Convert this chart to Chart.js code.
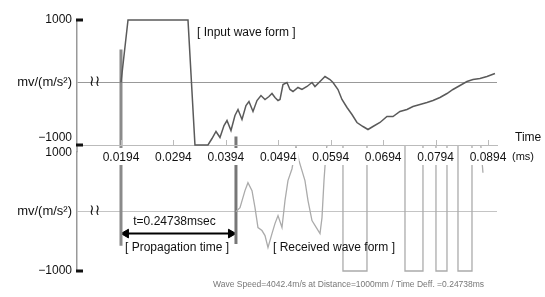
<!DOCTYPE html>
<html>
<head>
<meta charset="utf-8">
<script src="https://cdn.jsdelivr.net/npm/chart.js@4"></script>
<style>
  html, body { margin: 0; padding: 0; background: #fff; }
  #wrap { position: relative; width: 545px; height: 297px; overflow: hidden; }
  #wrap canvas { position: absolute; left: 0; }
  #bottom-chart { top: 140px; z-index: 1; }
  #top-chart { top: 0; z-index: 2; }
</style>
</head>
<body>
<div id="wrap">
  <canvas id="top-chart" width="545" height="170"></canvas>
  <canvas id="bottom-chart" width="545" height="157"></canvas>
</div>
<script>
/* ============================================================
   Input / received wave form — propagation time
   ============================================================ */

const TIME_MIN = 0.01101;
const TIME_MAX = 0.09112;
const TIME_TICKS = [0.0194, 0.0294, 0.0394, 0.0494, 0.0594, 0.0694, 0.0794, 0.0894];
const Y_TICKS = [-1000, 0, 1000];

// Input wave (upper panel)
const INPUT_T = [0.0194, 0.02074, 0.03218, 0.03351, 0.03599, 0.03676, 0.03752, 0.03828, 0.03905, 0.03962,
  0.04038, 0.04114, 0.04172, 0.04248, 0.04324, 0.04381, 0.04458, 0.04534, 0.04610, 0.04687,
  0.04763, 0.04820, 0.04877, 0.04935, 0.04973, 0.05030, 0.05106, 0.05163, 0.05221, 0.05316,
  0.05392, 0.05488, 0.05583, 0.05640, 0.05774, 0.05831, 0.05926, 0.05984, 0.06079, 0.06155,
  0.06251, 0.06346, 0.06441, 0.06556, 0.06651, 0.06746, 0.06880, 0.07013, 0.07128, 0.07261,
  0.07395, 0.07509, 0.07643, 0.07776, 0.07891, 0.08024, 0.08158, 0.08272, 0.08406, 0.08539,
  0.08654, 0.08787, 0.08921, 0.09073];
const INPUT_V = [0, 1000, 1000, -1000, -1000, -896, -784, -880, -688, -608,
  -768, -528, -432, -592, -368, -304, -464, -288, -208, -272,
  -224, -176, -240, -288, -272, -32, 0, -112, -144, -80,
  -112, -64, 0, -64, 48, 96, 48, 0, -112, -272,
  -400, -512, -640, -704, -752, -704, -640, -544, -544, -464,
  -432, -384, -352, -320, -288, -240, -176, -112, -48, 16,
  48, 64, 96, 144];

// Received wave (lower panel) — values above 1000 run off the panel
const RECV_T = [0.04133, 0.04210, 0.04305, 0.04362, 0.04439, 0.04496, 0.04553, 0.04629, 0.04687, 0.04744,
  0.04820, 0.04877, 0.04935, 0.05011, 0.05068, 0.05125, 0.05202, 0.05278, 0.05335, 0.05392,
  0.05449, 0.05507, 0.05583, 0.05678, 0.05736, 0.05774, 0.05812, 0.05850, 0.05900, 0.06174,
  0.06174, 0.06632, 0.06632, 0.07357, 0.07357, 0.07700, 0.07700, 0.07948, 0.07948, 0.08158,
  0.08158, 0.08368, 0.08368, 0.08635, 0.08635, 0.08787, 0.08844];
const RECV_V = [0, 67, 353, 487, 353, 67, -269, -319, -403, -605,
  -370, -202, -67, -269, 185, 521, 722, 1100, 857, 689,
  521, 185, -151, -286, -370, -101, 521, 1000, 1300, 1300,
  -1000, -1000, 1300, 1300, -1000, -1000, 1300, 1300, -1000, -1000,
  1300, 1300, -1000, -1000, 1300, 1300, 655];

// Start / arrival markers
const MARKER_T = [0.0194, 0.04133];
const MARKER_TOP_FROM = [530, -864];
const MARKER_BOTTOM_TO = [-575, -545];
const ARROW_V = -370;

const FONT = 'Liberation Sans, Arial, sans-serif';
const ARROW_INSET = 0.00095;

const toPoints = (ts, vs) => ts.map((t, i) => ({ x: t, y: vs[i] }));

function yLabel(v, topPanel) {
  if (v === 0) return 'mv/(m/s²)';
  if (v < 0) return topPanel ? ['−1000', ''] : '−1000';
  return '1000';
}

function yScale(topPanel, zeroColor) {
  return {
    min: -1000,
    max: 1000,
    afterFit: s => { s.width = 77; },
    afterBuildTicks: s => { s.ticks = Y_TICKS.map(v => ({ value: v })); },
    ticks: {
      padding: 5,
      color: '#111',
      font: c => ({ family: FONT, size: (c.tick && c.tick.value === 0) ? 13 : 12 }),
      callback: v => yLabel(v, topPanel)
    },
    grid: {
      drawTicks: false,
      lineWidth: 1,
      color: c => (c.tick && c.tick.value === 0) ? zeroColor : 'rgba(0,0,0,0)'
    },
    border: { color: '#999', width: 1.5 }
  };
}

function markerLine(t, from, to, color) {
  return {
    data: [{ x: t, y: from }, { x: t, y: to }],
    borderColor: color,
    borderWidth: 3,
    pointRadius: 0
  };
}

function drawBreak(ctx, x, y) {
  ctx.font = '15px "DejaVu Sans"';
  ctx.textAlign = 'left';
  ctx.textBaseline = 'middle';
  ctx.fillText('≀≀', x, y);
}

const topDecor = {
  id: 'topDecor',
  afterDraw(chart) {
    const { ctx, chartArea: a, scales: { x, y } } = chart;
    ctx.save();
    // short thick ticks at ±1000
    ctx.fillStyle = '#111';
    [1000, -1000].forEach(v => {
      const py = y.getPixelForValue(v);
      ctx.fillRect(a.left - 1, py - 1.5, 7, 3);
    });
    // small inner time ticks
    ctx.strokeStyle = '#bbb';
    ctx.lineWidth = 1;
    TIME_TICKS.forEach(v => {
      const px = Math.round(x.getPixelForValue(v)) + 0.5;
      ctx.beginPath();
      ctx.moveTo(px, a.bottom);
      ctx.lineTo(px, a.bottom - 5);
      ctx.stroke();
    });
    ctx.fillStyle = '#111';
    drawBreak(ctx, a.left + 12, y.getPixelForValue(0));
    ctx.font = '12px ' + FONT;
    ctx.fillText('[ Input wave form ]', 197, 33);
    ctx.fillText('Time', 515, 138);
    ctx.font = '11px ' + FONT;
    ctx.fillText('(ms)', 512, 157);
    ctx.restore();
  }
};

const bottomDecor = {
  id: 'bottomDecor',
  afterDraw(chart) {
    const { ctx, chartArea: a, scales: { x, y } } = chart;
    ctx.save();
    // axis continues up through the label strip
    ctx.strokeStyle = '#999';
    ctx.lineWidth = 1.5;
    ctx.beginPath();
    ctx.moveTo(a.left, a.top - 8);
    ctx.lineTo(a.left, a.top);
    ctx.stroke();
    ctx.fillStyle = '#111';
    const pyMin = y.getPixelForValue(-1000);
    ctx.fillRect(a.left - 1, pyMin - 1.5, 7, 3);

    drawBreak(ctx, a.left + 12, y.getPixelForValue(0));

    const x0 = x.getPixelForValue(MARKER_T[0]);
    const x1 = x.getPixelForValue(MARKER_T[1]);
    const ya = y.getPixelForValue(ARROW_V);
    ctx.font = '12px ' + FONT;
    ctx.textAlign = 'center';
    ctx.fillText('t=0.24738msec', (x0 + x1) / 2 - 4, ya - 12);
    ctx.textAlign = 'left';
    ctx.fillText('[ Propagation time ]', x0 + 4, ya + 14);
    ctx.fillText('[ Received wave form ]', x1 + 37, ya + 14);

    ctx.fillStyle = '#777';
    ctx.font = '8.5px ' + FONT;
    ctx.fillText('Wave Speed=4042.4m/s at Distance=1000mm / Time Deff. =0.24738ms', 213, 145);
    ctx.restore();
  }
};

const commonOpts = {
  responsive: false,
  animation: false,
  plugins: { legend: { display: false }, tooltip: { enabled: false } },
  elements: { line: { tension: 0 }, point: { radius: 0 } }
};

new Chart(document.getElementById('top-chart'), {
  type: 'line',
  data: {
    datasets: [
      {
        data: toPoints(INPUT_T, INPUT_V),
        borderColor: '#5a5a5a',
        borderWidth: 1.5,
        pointRadius: 0,
        clip: 3
      },
      markerLine(MARKER_T[0], MARKER_TOP_FROM[0], -1000, '#8a8a8a'),
      markerLine(MARKER_T[1], MARKER_TOP_FROM[1], -1000, '#777')
    ]
  },
  options: {
    ...commonOpts,
    layout: { padding: { left: 0, right: 48, top: 20, bottom: 5 } },
    scales: {
      x: {
        type: 'linear',
        min: TIME_MIN,
        max: TIME_MAX,
        afterFit: s => { s.height = 20; },
        afterBuildTicks: s => { s.ticks = TIME_TICKS.map(v => ({ value: v })); },
        ticks: {
          padding: 5,
          color: '#111',
          autoSkip: false,
          maxRotation: 0,
          font: { family: FONT, size: 12 },
          callback: v => v.toFixed(4),
          showLabelBackdrop: true,
          backdropColor: '#fff',
          backdropPadding: { top: 2, bottom: 2, left: 2, right: 2 }
        },
        grid: { display: false, drawTicks: false },
        border: { color: '#bbb', width: 1 }
      },
      y: yScale(true, '#999')
    }
  },
  plugins: [topDecor]
});

new Chart(document.getElementById('bottom-chart'), {
  type: 'line',
  data: {
    datasets: [
      {
        data: toPoints(RECV_T, RECV_V),
        borderColor: '#ababab',
        borderWidth: 1.3,
        pointRadius: 0,
        clip: { left: 0, top: 7, right: 2, bottom: 3 }
      },
      Object.assign(markerLine(MARKER_T[0], 1300, MARKER_BOTTOM_TO[0], '#8a8a8a'), { clip: { left: 2, top: 7, right: 2, bottom: 2 } }),
      Object.assign(markerLine(MARKER_T[1], 1300, MARKER_BOTTOM_TO[1], '#777'), { clip: { left: 2, top: 7, right: 2, bottom: 2 } }),
      {
        data: [{ x: MARKER_T[0] + ARROW_INSET, y: ARROW_V }, { x: MARKER_T[1] - ARROW_INSET, y: ARROW_V }],
        borderColor: '#000',
        borderWidth: 2,
        pointStyle: 'triangle',
        pointRadius: 5,
        pointRotation: [-90, 90],
        pointBackgroundColor: '#000',
        pointBorderColor: '#000',
        pointBorderWidth: 1
      }
    ]
  },
  options: {
    ...commonOpts,
    layout: { padding: { left: 0, right: 48, top: 12, bottom: 26 } },
    scales: {
      x: { type: 'linear', min: TIME_MIN, max: TIME_MAX, display: false },
      y: yScale(false, '#c4c4c4')
    }
  },
  plugins: [bottomDecor]
});
</script>
</body>
</html>
